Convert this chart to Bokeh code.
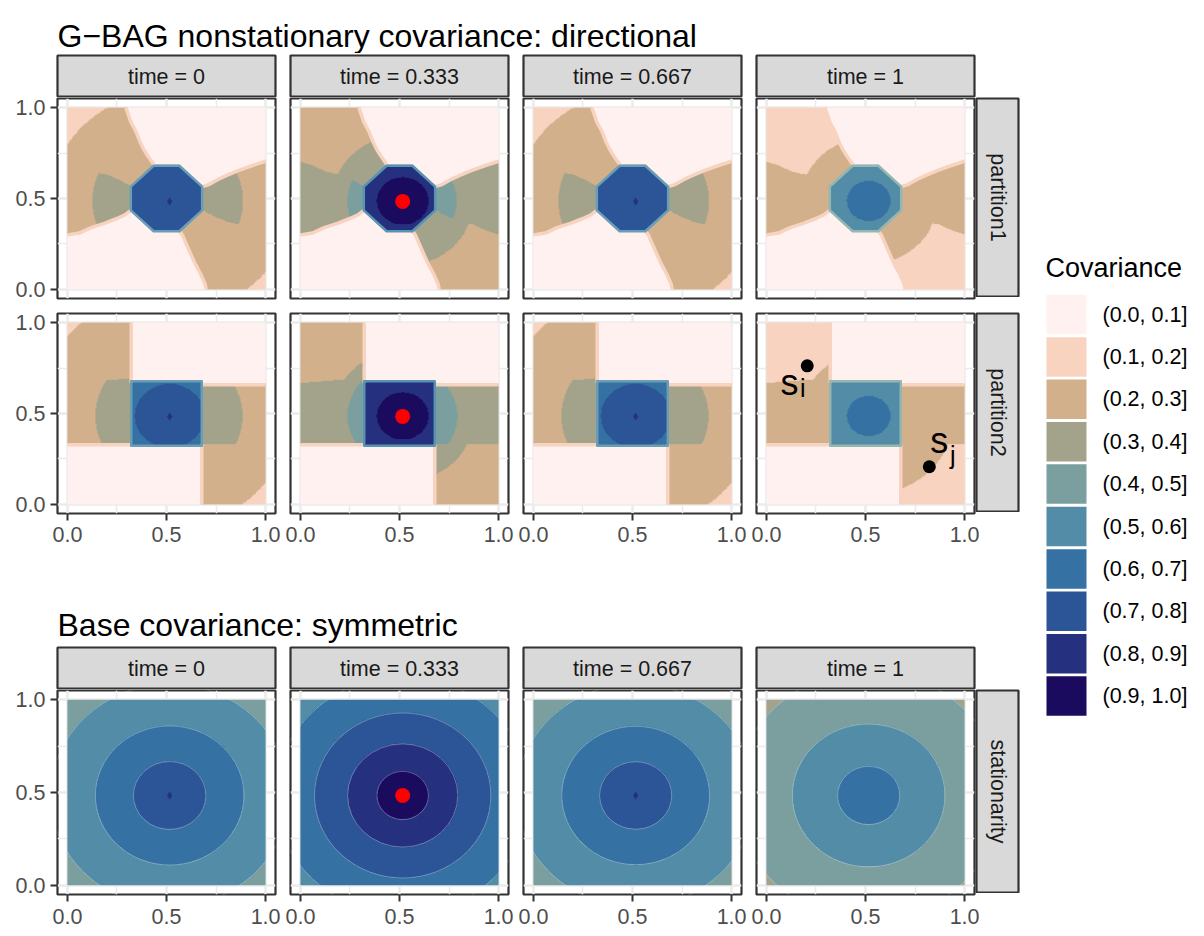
import numpy as np
from bokeh.plotting import figure
from bokeh.layouts import row, column
from bokeh.models import Range1d, FixedTicker, PrintfTickFormatter, LinearColorMapper
from bokeh.core.properties import value
from bokeh.embed import file_html
from bokeh.resources import INLINE

# ------------------------------------------------------------------ data
TITLE_TOP = "G\u2212BAG nonstationary covariance: directional"
TITLE_BOTTOM = "Base covariance: symmetric"
LEGEND_TITLE = "Covariance"
LEVEL_LABELS = ["(0.0, 0.1]", "(0.1, 0.2]", "(0.2, 0.3]", "(0.3, 0.4]", "(0.4, 0.5]",
                "(0.5, 0.6]", "(0.6, 0.7]", "(0.7, 0.8]", "(0.8, 0.9]", "(0.9, 1.0]"]
LEVEL_COLORS = ["#FEF1F0", "#F8D3BF", "#D3B08C", "#A3A38C", "#7B9F9F",
                "#528CA6", "#3571A3", "#2B5597", "#25317E", "#1B0B5F"]
TIME_LABELS = ["time = 0", "time = 0.333", "time = 0.667", "time = 1"]
ROW_LABELS = ["partition1", "partition2", "stationarity"]
AXIS_TICKS = [0.0, 0.5, 1.0]
MINOR_TICKS = [0.25, 0.75]
TARGET_X = 0.516          # reference location s (red dot)
TARGET_Y = 0.484
CENTER_MARK = ["diamond", "target", "diamond", None]

# partition 1 (octagon) region boundaries
P1_CORE_X = [0.435, 0.565, 0.68, 0.68, 0.565, 0.435, 0.32, 0.32]
P1_CORE_Y = [0.68, 0.68, 0.565, 0.435, 0.32, 0.32, 0.435, 0.565]
P1_EDGE_NW_X = [0.44, 0.405, 0.385, 0.365, 0.345, 0.32, 0.295]
P1_EDGE_NW_Y = [0.68, 0.735, 0.77, 0.815, 0.87, 0.92, 1.0]
P1_EDGE_W_X = [0.0, 0.06, 0.12, 0.19, 0.25, 0.29, 0.32]
P1_EDGE_W_Y = [0.30, 0.31, 0.34, 0.365, 0.39, 0.41, 0.435]
P1_EDGE_E_X = [0.68, 0.71, 0.76, 0.81, 0.865, 0.93, 1.0]
P1_EDGE_E_Y = [0.565, 0.575, 0.605, 0.63, 0.655, 0.68, 0.705]
P1_EDGE_SE_X = [0.565, 0.58, 0.60, 0.62, 0.645, 0.67, 0.695, 0.70]
P1_EDGE_SE_Y = [0.32, 0.30, 0.25, 0.20, 0.14, 0.09, 0.03, 0.0]
P1_SPLIT_W_X = [0.0, 0.07, 0.12, 0.20, 0.26, 0.32]
P1_SPLIT_W_Y = [0.70, 0.675, 0.648, 0.628, 0.60, 0.565]
P1_SPLIT_E_X = [0.68, 0.74, 0.80, 0.88, 0.93, 1.0]
P1_SPLIT_E_Y = [0.435, 0.40, 0.372, 0.352, 0.325, 0.30]

# partition 2 (square) region boundaries
P2_CORE_X = [0.322, 0.678, 0.678, 0.322]
P2_CORE_Y = [0.322, 0.322, 0.678, 0.678]
P2_EDGE_NW_X = [0.322, 0.322]
P2_EDGE_NW_Y = [0.668, 1.0]
P2_EDGE_W_X = [0.0, 0.322]
P2_EDGE_W_Y = [0.328, 0.328]
P2_EDGE_E_X = [0.678, 1.0]
P2_EDGE_E_Y = [0.658, 0.658]
P2_EDGE_SE_X = [0.678, 0.678]
P2_EDGE_SE_Y = [0.0, 0.33]
P2_SPLIT_W_X = [0.0, 0.22, 0.322]
P2_SPLIT_W_Y = [0.665, 0.683, 0.685]
P2_SPLIT_E_X = [0.678, 1.0]
P2_SPLIT_E_Y = [0.33, 0.33]

# covariance class per region: (outer class, [(radius from s, inner class), ...])
P1_T0 = {"OUT": (1, []), "CORE": (8, []), "W": (3, [(0.39, 4)]), "NW": (2, [(0.60, 3)]),
         "E": (3, [(0.37, 4)]), "SE": (2, [(0.62, 3)])}
P1_T333 = {"OUT": (1, []), "CORE": (9, [(0.13, 10)]), "W": (4, [(0.28, 5)]), "NW": (3, [(0.36, 4)]),
           "E": (4, [(0.27, 5)]), "SE": (3, [(0.356, 4)])}
P1_T667 = {"OUT": (1, []), "CORE": (8, []), "W": (3, [(0.39, 4)]), "NW": (2, [(0.60, 3)]),
           "E": (3, [(0.37, 4)]), "SE": (2, [(0.62, 3)])}
P1_T1 = {"OUT": (1, []), "CORE": (6, [(0.11, 7)]), "W": (3, []), "NW": (2, [(0.345, 3)]),
         "E": (3, []), "SE": (2, [(0.345, 3)])}

P2_T0 = {"OUT": (1, []), "CORE": (7, [(0.175, 8)]), "W": (3, [(0.375, 4)]), "NW": (2, [(0.676, 3)]),
         "E": (3, [(0.367, 4)]), "SE": (2, [(0.605, 3)])}
P2_T333 = {"OUT": (1, []), "CORE": (9, [(0.13, 10)]), "W": (4, [(0.28, 5)]), "NW": (3, [(0.357, 4)]),
           "E": (4, [(0.274, 5)]), "SE": (3, [(0.36, 4)])}
P2_T667 = {"OUT": (1, []), "CORE": (7, [(0.175, 8)]), "W": (3, [(0.375, 4)]), "NW": (2, [(0.676, 3)]),
           "E": (3, [(0.367, 4)]), "SE": (2, [(0.605, 3)])}
P2_T1 = {"OUT": (1, []), "CORE": (6, [(0.11, 7)]), "W": (3, []), "NW": (2, [(0.345, 3)]),
         "E": (3, []), "SE": (2, [(0.43, 3)])}

B_T0 = {"OUT": (5, [(0.60, 6), (0.375, 7), (0.183, 8)])}
B_T333 = {"OUT": (6, [(0.64, 7), (0.445, 8), (0.278, 9), (0.13, 10)])}
B_T667 = {"OUT": (5, [(0.60, 6), (0.373, 7), (0.182, 8)])}
B_T1 = {"OUT": (4, [(0.67, 5), (0.385, 6), (0.157, 7)])}

CORE_EDGE_COLORS = ["#6A9EB6", "#5893B2", "#6A9EB6", "#94B7B2"]

# annotation points s_i, s_j (partition2, time = 1)
S_DOT_X = [0.206, 0.822]
S_DOT_Y = [0.762, 0.207]
S_SUB = ["i", "j"]
S_LABEL_X = [0.117, 0.872]
S_LABEL_Y = [0.673, 0.35]
S_SUB_X = [0.183, 0.94]
S_SUB_Y = [0.643, 0.27]

# ------------------------------------------------------------------ geometry helpers
def rev(a):
    return list(a)[::-1]

P1_ZONES = [
    ("CORE", P1_CORE_X, P1_CORE_Y),
    ("W", P1_EDGE_W_X + rev(P1_SPLIT_W_X), P1_EDGE_W_Y + rev(P1_SPLIT_W_Y)),
    ("NW", P1_SPLIT_W_X + P1_EDGE_NW_X + [0.0], P1_SPLIT_W_Y + P1_EDGE_NW_Y + [1.0]),
    ("E", P1_SPLIT_E_X + rev(P1_EDGE_E_X), P1_SPLIT_E_Y + rev(P1_EDGE_E_Y)),
    ("SE", P1_EDGE_SE_X + [1.0] + rev(P1_SPLIT_E_X), P1_EDGE_SE_Y + [0.0] + rev(P1_SPLIT_E_Y)),
]
P2_ZONES = [
    ("CORE", P2_CORE_X, P2_CORE_Y),
    ("W", P2_EDGE_W_X + rev(P2_SPLIT_W_X), P2_EDGE_W_Y + rev(P2_SPLIT_W_Y)),
    ("NW", P2_SPLIT_W_X + [0.322, 0.0], P2_SPLIT_W_Y + [1.0, 1.0]),
    ("E", P2_SPLIT_E_X + rev(P2_EDGE_E_X), P2_SPLIT_E_Y + rev(P2_EDGE_E_Y)),
    ("SE", P2_EDGE_SE_X[:1] + [1.0] + rev(P2_SPLIT_E_X), P2_EDGE_SE_Y[:1] + [0.0] + rev(P2_SPLIT_E_Y)),
]
P1_EDGES = ([P1_EDGE_NW_X, P1_EDGE_W_X, P1_EDGE_E_X, P1_EDGE_SE_X],
            [P1_EDGE_NW_Y, P1_EDGE_W_Y, P1_EDGE_E_Y, P1_EDGE_SE_Y])
P2_EDGES = ([P2_EDGE_NW_X, P2_EDGE_W_X, P2_EDGE_E_X, P2_EDGE_SE_X],
            [P2_EDGE_NW_Y, P2_EDGE_W_Y, P2_EDGE_E_Y, P2_EDGE_SE_Y])

ROWS = [
    dict(zones=P1_ZONES, edges=P1_EDGES, core=(P1_CORE_X, P1_CORE_Y), rules=[P1_T0, P1_T333, P1_T667, P1_T1]),
    dict(zones=P2_ZONES, edges=P2_EDGES, core=(P2_CORE_X, P2_CORE_Y), rules=[P2_T0, P2_T333, P2_T667, P2_T1]),
    dict(zones=[], edges=None, core=None, rules=[B_T0, B_T333, B_T667, B_T1]),
]

N = 400
_g = (np.arange(N) + 0.5) / N
GX, GY = np.meshgrid(_g, _g)
RR = np.hypot(GX - TARGET_X, GY - TARGET_Y)


def inside(xs, ys):
    xs = np.asarray(xs, float)
    ys = np.asarray(ys, float)
    res = np.zeros(GX.shape, dtype=bool)
    j = len(xs) - 1
    for i in range(len(xs)):
        xi, yi, xj, yj = xs[i], ys[i], xs[j], ys[j]
        if yi != yj:
            cross = (yi > GY) != (yj > GY)
            xint = (xj - xi) * (GY - yi) / (yj - yi) + xi
            res ^= cross & (GX < xint)
        j = i
    return res


def ring_classes(rule):
    base, rings = rule
    out = np.full(GX.shape, float(base))
    for r, lv in rings:
        out[RR < r] = lv
    return out


def class_field(zones, rules):
    field = ring_classes(rules["OUT"])
    taken = np.zeros(GX.shape, dtype=bool)
    for name, xs, ys in zones:
        m = inside(xs, ys) & ~taken
        field[m] = ring_classes(rules[name])[m]
        taken |= m
    return field


# ------------------------------------------------------------------ styling
FONT = "Liberation Sans"
DARK = "#333333"
GRID = "#EBEBEB"
SMALL = "21.5px"
CMAP = LinearColorMapper(palette=LEVEL_COLORS, low=0.5, high=10.5)
LEFT0 = 57
MAIN_W = 1020
TOTAL_H = 934


def base_fig(fw, fh, xr, yr, left, right, top, bottom, xaxis=False, yaxis=False):
    p = figure(frame_width=fw, frame_height=fh, x_range=xr, y_range=yr,
               x_axis_location="below" if xaxis else None,
               y_axis_location="left" if yaxis else None,
               toolbar_location=None, output_backend="svg",
               min_border_left=left, min_border_right=right,
               min_border_top=top, min_border_bottom=bottom)
    p.background_fill_color = "white"
    p.border_fill_color = "white"
    return p


def style_axis(ax, out, standoff):
    ax.ticker = FixedTicker(ticks=AXIS_TICKS)
    ax.formatter = PrintfTickFormatter(format="%.1f")
    ax.axis_line_color = None
    ax.major_tick_line_color = DARK
    ax.major_tick_line_width = 2
    ax.major_tick_out = out
    ax.major_tick_in = 0
    ax.minor_tick_line_color = None
    ax.major_label_standoff = standoff
    ax.major_label_text_font = FONT
    ax.major_label_text_font_size = SMALL
    ax.major_label_text_color = "#4D4D4D"


def make_panel(ri, ci, fh, top, bottom, xaxis, xstandoff):
    cfg = ROWS[ri]
    left = LEFT0 if ci == 0 else 8
    right = 7 if ci < 3 else 6
    p = base_fig(218, fh, Range1d(-0.05, 1.05), Range1d(-0.05, 1.05), left, right, top, bottom,
                 xaxis=xaxis, yaxis=(ci == 0))
    p.outline_line_color = DARK
    p.outline_line_width = 2.2
    p.xgrid.ticker = FixedTicker(ticks=AXIS_TICKS, minor_ticks=MINOR_TICKS)
    p.ygrid.ticker = FixedTicker(ticks=AXIS_TICKS, minor_ticks=MINOR_TICKS)
    p.grid.grid_line_color = GRID
    p.grid.grid_line_width = 2.5
    p.grid.minor_grid_line_color = GRID
    p.grid.minor_grid_line_width = 1.5
    for ax in list(p.xaxis):
        style_axis(ax, 7, xstandoff)
    for ax in list(p.yaxis):
        style_axis(ax, 7, 5)

    rule = cfg["rules"][ci]
    field = class_field(cfg["zones"], rule)
    p.image(image=[field], x=0, y=0, dw=1, dh=1, color_mapper=CMAP)

    if not cfg["zones"]:
        radii = [2 * r for r, _ in rule["OUT"][1]]
        p.ellipse(x=[TARGET_X] * len(radii), y=[TARGET_Y] * len(radii), width=radii, height=radii,
                  fill_color=None, line_color="white", line_alpha=0.3, line_width=1)

    if cfg["edges"] is not None:
        p.multi_line(xs=cfg["edges"][0], ys=cfg["edges"][1], line_color=LEVEL_COLORS[1],
                     line_width=3.5, line_join="round")
    if cfg["core"] is not None:
        p.patch(cfg["core"][0], cfg["core"][1], fill_color=None,
                line_color=CORE_EDGE_COLORS[ci], line_width=2.5, line_join="round")

    mark = CENTER_MARK[ci]
    if mark == "target":
        p.scatter(x=[TARGET_X], y=[TARGET_Y], size=15, fill_color="#FF0000", line_color=None)
    elif mark == "diamond":
        p.scatter(x=[TARGET_X], y=[TARGET_Y], marker="diamond", size=8,
                  fill_color=LEVEL_COLORS[8], line_color=None)

    if ri == 1 and ci == 3:
        p.scatter(x=S_DOT_X, y=S_DOT_Y, size=13, fill_color="black", line_color=None)
        p.text(x=S_LABEL_X, y=S_LABEL_Y, text=["s", "s"], text_align="center",
               text_baseline="alphabetic", text_font=value(FONT), text_font_size="36px",
               text_color="black")
        p.text(x=S_SUB_X, y=S_SUB_Y, text=S_SUB, text_align="center",
               text_baseline="alphabetic", text_font=value(FONT), text_font_size="25px",
               text_color="black")
    return p


def make_strip(text, fw, fh, left, right, top, bottom, vertical=False):
    p = base_fig(fw, fh, Range1d(0, 1), Range1d(0, 1), left, right, top, bottom)
    p.grid.visible = False
    p.background_fill_color = "#D9D9D9"
    p.outline_line_color = DARK
    p.outline_line_width = 2.2
    p.text(x=[0.5], y=[0.5], text=[text], angle=(-np.pi / 2 if vertical else 0.0),
           text_align="center", text_baseline="middle", text_font=value(FONT),
           text_font_size=SMALL, text_color="#1A1A1A")
    return p


def make_title(text, h, baseline):
    p = base_fig(MAIN_W, h, Range1d(0, MAIN_W), Range1d(h, 0), 0, 0, 0, 0)
    p.grid.visible = False
    p.outline_line_color = None
    p.text(x=[LEFT0], y=[baseline], text=[text], text_align="left", text_baseline="alphabetic",
           text_font=value(FONT), text_font_size="32px", text_color="black")
    return p


def strip_row():
    return row([make_strip(TIME_LABELS[c], 218, 42, LEFT0 if c == 0 else 8, 7 if c < 3 else 6, 2, 0)
                for c in range(4)])


def panel_row(ri, fh, top, bottom, xaxis, xstandoff=10):
    figs = [make_panel(ri, c, fh, top, bottom, xaxis, xstandoff) for c in range(4)]
    rs = make_strip(ROW_LABELS[ri], 42, fh - 2, 1, 2, top + 1, 1, vertical=True)
    rs.margin = (0, 0, 0, -5)
    return row(figs + [rs])


title1 = make_title(TITLE_TOP, 53, 35)
title2 = make_title(TITLE_BOTTOM, 92, 71)

main = column([
    title1,                                   # 0 -> 53
    strip_row(),                              # 53 -> 97
    panel_row(0, 200, 0, 13, False),          # 97 -> 310
    panel_row(1, 200, 2, 41, True, 6),        # 310 -> 553
    title2,                                   # 553 -> 645
    strip_row(),                              # 645 -> 689
    panel_row(2, 204, 0, 41, True, 7),        # 689 -> 934
])

# legend
leg = base_fig(170, TOTAL_H, Range1d(0, 170), Range1d(TOTAL_H, 0), 0, 0, 0, 0)
leg.grid.visible = False
leg.outline_line_color = None
key_y = [314 + 42.4 * k for k in range(len(LEVEL_LABELS))]
leg.rect(x=[46] * len(key_y), y=key_y, width=40, height=39.5, fill_color=LEVEL_COLORS, line_color=None)
leg.text(x=[82] * len(key_y), y=key_y, text=LEVEL_LABELS, text_align="left", text_baseline="middle",
         text_font=value(FONT), text_font_size=SMALL, text_color="black")
leg.text(x=[25], y=[267], text=[LEGEND_TITLE], text_align="left", text_baseline="middle",
         text_font=value(FONT), text_font_size="27px", text_color="black")

layout = row([main, leg])

open("out.html", "w").write(file_html(layout, INLINE))
